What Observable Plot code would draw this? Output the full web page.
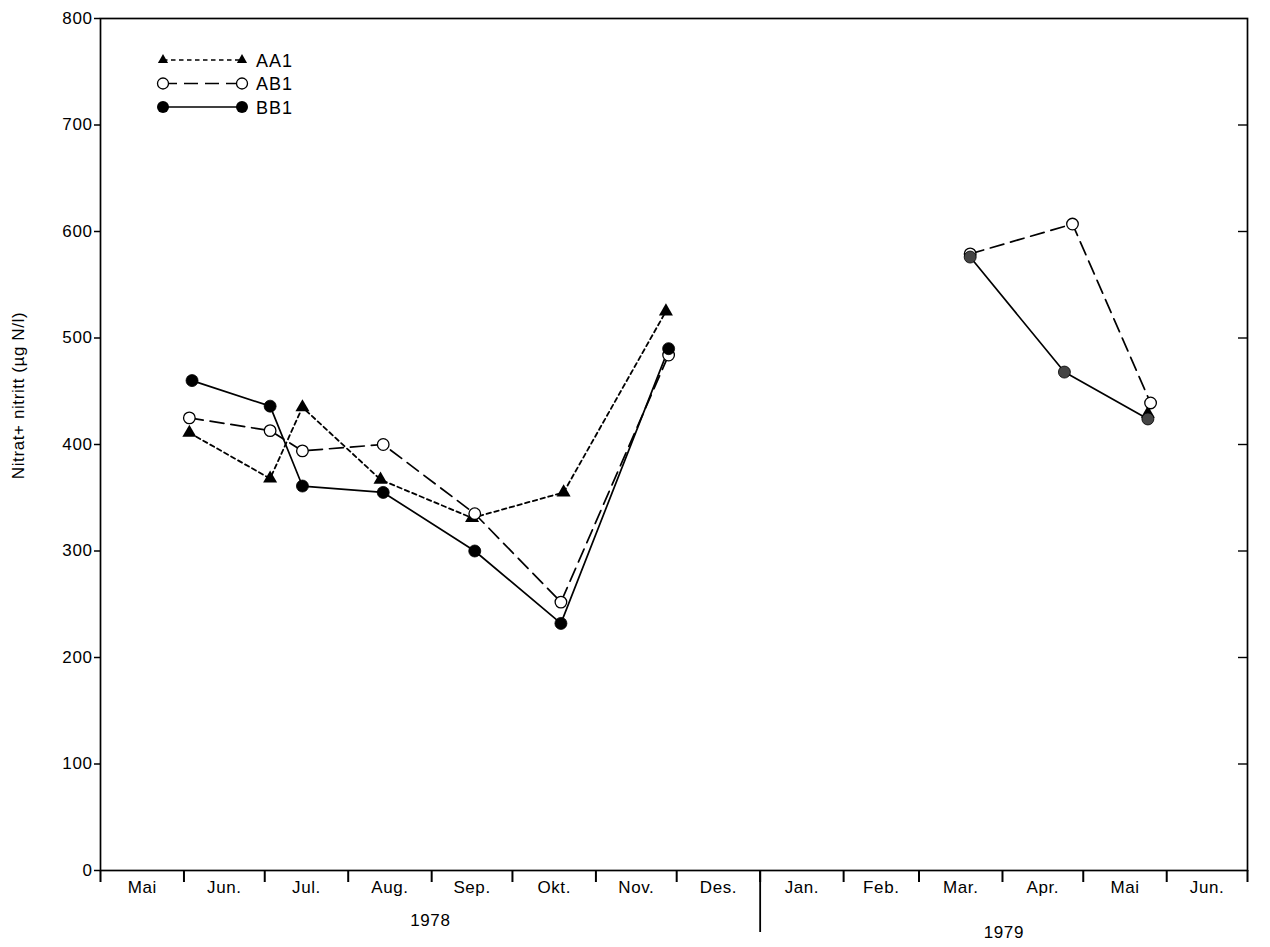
<!DOCTYPE html>
<html><head><meta charset="utf-8">
<script src="https://cdn.jsdelivr.net/npm/d3@7"></script>
<script src="https://cdn.jsdelivr.net/npm/@observablehq/plot@0.6"></script>
<style>
body{margin:0;background:#fff;}
#wrap{position:relative;width:1270px;height:947px;}
#legend{position:absolute;left:0;top:0;pointer-events:none;}
</style>
</head><body><div id="wrap"></div>
<script>
// ---- data ----
const seriesNames = ["AA1", "AB1", "BB1"];
const aa1Dates  = ["1978-06-03","1978-07-03","1978-07-15","1978-08-13","1978-09-16","1978-10-20","1978-11-27","1979-05-25"];
const aa1Values = [411, 368, 435, 367, 331, 355, 525, 429];
const ab1Dates  = ["1978-06-03","1978-07-03","1978-07-15","1978-08-14","1978-09-17","1978-10-19","1978-11-28","1979-03-20","1979-04-27","1979-05-26"];
const ab1Values = [425, 413, 394, 400, 335, 252, 484, 579, 607, 439];
const bb1Dates  = ["1978-06-04","1978-07-03","1978-07-15","1978-08-14","1978-09-17","1978-10-19","1978-11-28","1979-03-20","1979-04-24","1979-05-25"];
const bb1Values = [460, 436, 361, 355, 300, 232, 490, 576, 468, 424];
const monthLabels = ["Mai","Jun.","Jul.","Aug.","Sep.","Okt.","Nov.","Des.","Jan.","Feb.","Mar.","Apr.","Mai","Jun."];
const yearLabels = ["1978", "1979"];
const yTicks = [0,100,200,300,400,500,600,700,800];
const yLabel = "Nitrat+ nitritt (µg N/l)";

// ---- build tables ----
const parse = d3.utcParse("%Y-%m-%d");
function rows(name, dates, values) {
  return dates.map((d, i) => {
    const date = parse(d);
    return {series: name, date, value: values[i], year: date.getUTCFullYear(), key: name + date.getUTCFullYear()};
  });
}
const AA1 = rows("AA1", aa1Dates, aa1Values);
const AB1 = rows("AB1", ab1Dates, ab1Values);
const BB1 = rows("BB1", bb1Dates, bb1Values);

const start = parse("1978-05-01"), end = parse("1979-07-01");
const monthStarts = d3.utcMonth.range(start, d3.utcMonth.offset(end, 1));
const monthMids = d3.utcMonth.range(start, end).map(d => new Date(+d + (d3.utcMonth.offset(d,1) - d) / 2));
const yearStarts = [parse("1978-05-01"), parse("1979-01-01")];
const yearEnds = [parse("1979-01-01"), end];
const yearMids = yearStarts.map((s, i) => new Date((+s + +yearEnds[i]) / 2));

const W = 1270, H = 947, mL = 100, mR = 23, mT = 18, mB = 77;
const innerW = W - mL - mR;
const font = "Liberation Sans, Arial, Helvetica, sans-serif";

const chart = Plot.plot({
  width: W, height: H,
  marginLeft: mL, marginRight: mR, marginTop: mT, marginBottom: mB,
  style: {fontFamily: font, fontSize: "17px", color: "#000", background: "#fff", overflow: "visible", letterSpacing: "0.6px"},
  x: {type: "utc", domain: [start, end]},
  y: {domain: [0, 800]},
  marks: [
    Plot.frame({stroke: "#000", strokeWidth: 1.7}),
    // y axis
    Plot.axisY(yTicks, {anchor: "left", tickSize: 6, tickPadding: 2, fontSize: 17, label: null, strokeWidth: 1.5}),
    // right inner ticks
    Plot.tickY(yTicks.slice(1, -1), {y: d => d, insetLeft: innerW - 9, stroke: "#000", strokeWidth: 1.4}),
    // x month boundary ticks
    Plot.axisX(monthStarts, {anchor: "bottom", tickSize: 12, tickFormat: () => "", label: null, strokeWidth: 2}),
    Plot.axisX([parse("1979-01-01")], {anchor: "bottom", tickSize: 62, tickFormat: () => "", label: null, strokeWidth: 1.8}),
    // month labels
    Plot.axisX(monthMids, {anchor: "bottom", tickSize: 0, tickPadding: 10, tickFormat: (d, i) => monthLabels[i], label: null, fontSize: 17}),
    // year labels
    Plot.text([yearLabels[0]], {x: [yearMids[0]], frameAnchor: "bottom", dy: 55, fontSize: 17}),
    Plot.text([yearLabels[1]], {x: [yearMids[1]], frameAnchor: "bottom", dy: 67, fontSize: 17}),
    // y label
    Plot.text([yLabel], {frameAnchor: "left", textAnchor: "middle", dx: -82, dy: -49, rotate: -90, fontSize: 17, letterSpacing: "1.8px"}),
    // lines
    Plot.line(AA1, {x: "date", y: "value", z: "key", stroke: "#000", strokeWidth: 1.8, strokeDasharray: "4.5,3.5"}),
    Plot.line(AB1, {x: "date", y: "value", z: "key", stroke: "#000", strokeWidth: 1.7, strokeDasharray: "14,7"}),
    Plot.line(BB1, {x: "date", y: "value", z: "key", stroke: "#000", strokeWidth: 1.7}),
    // markers
    Plot.dot(AA1, {x: "date", y: "value", symbol: "triangle", r: 5.2, fill: "#000", stroke: "none"}),
    Plot.dot(AB1, {x: "date", y: "value", r: 5.8, fill: "#fff", stroke: "#000", strokeWidth: 1.3}),
    Plot.dot(BB1, {x: "date", y: "value", r: 6, fill: d => d.year === 1979 ? "#444" : "#000", stroke: "#000", strokeWidth: 0.8})
  ]
});
document.getElementById("wrap").appendChild(chart);

// ---- legend overlay ----
const legendRows = [
  {name: seriesNames[0], dash: "4.5,3.5", sym: "triangle"},
  {name: seriesNames[1], dash: "14,7", sym: "open"},
  {name: seriesNames[2], dash: null, sym: "filled"}
];
const lg = d3.select("#wrap").append("svg").attr("id", "legend").attr("width", W).attr("height", 140)
  .style("font-family", font);
legendRows.forEach((r, i) => {
  const y = 60 + i * 23.5;
  const g = lg.append("g");
  g.append("line").attr("x1", 163).attr("x2", 242).attr("y1", y).attr("y2", y)
    .attr("stroke", "#000").attr("stroke-width", 1.6).attr("stroke-dasharray", r.dash);
  [163, 242].forEach(x => {
    if (r.sym === "triangle") {
      g.append("path").attr("d", d3.symbol(d3.symbolTriangle, 45)()).attr("transform", `translate(${x},${y})`).attr("fill", "#000");
    } else if (r.sym === "open") {
      g.append("circle").attr("cx", x).attr("cy", y).attr("r", 5.5).attr("fill", "#fff").attr("stroke", "#000").attr("stroke-width", 1.3);
    } else {
      g.append("circle").attr("cx", x).attr("cy", y).attr("r", 6).attr("fill", "#000");
    }
  });
  g.append("text").attr("x", 256).attr("y", y + 6.5).attr("font-size", 18).attr("letter-spacing", "1px").text(r.name);
});
</script>
</body></html>
